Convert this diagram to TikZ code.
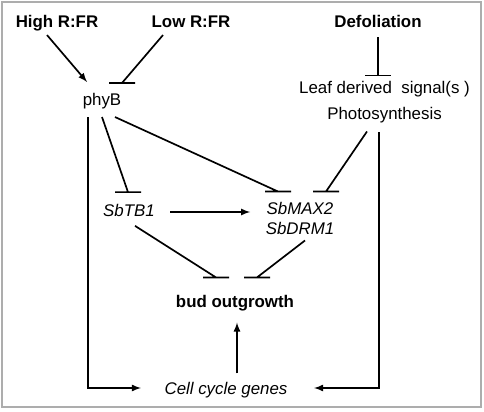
\documentclass[tikz,border=0pt]{standalone}
\usepackage{fontspec}
\setmainfont{Liberation Sans}
\usepackage{tikz}
\usetikzlibrary{calc}
\usetikzlibrary{arrows}
\usetikzlibrary{positioning}
\tikzset{>=latex}
\tikzstyle{txt} = [inner sep=2pt, font=\fontsize{12}{14.4}\selectfont]
\tikzstyle{inh} = [-, to path={-- (\tikztotarget) ++(-13,0) -- ++(26,0)}]

\begin{document}
\begin{tikzpicture}[x=0.025cm, y=-0.025cm, line width=1.2pt]
\useasboundingbox (0,0) rectangle (484,412);
\draw [black!32, line width=1.4pt] (2,2) rectangle (481,407);

% signals
\node [txt] (high) at (57, 23.5) {\textbf{High R:FR}};
\node [txt] (low) at (191, 21.5) {\textbf{Low R:FR}};
\node [txt] (defol) at (378, 21.5) {\textbf{Defoliation}};
\node [txt] (phyB) at (102, 101.5) {phyB};
\node [txt, align=center] (leaf) at (384.5, 102) {Leaf derived\ \ signal(s )\\[4pt]Photosynthesis};
% genes
\node [txt] (tb1) at (129, 210) {\textit{SbTB1}};
\node [txt, align=center] (max) at (300, 218.5) {\textit{SbMAX2}\\\textit{SbDRM1}};
\node [txt] (bud) at (235, 303) {\textbf{bud outgrowth}};
\node [txt] (cell) at (226, 390) {\textit{Cell cycle genes}};

\draw [->] ($(high.south)+(-10,0)$) -- ($(phyB.north)+(-15,-8)$);
\draw [inh] ($(low.south)+(-28,4)$) to ($(phyB.north)+(20,-7)$);
\draw [inh] (defol.south) ++(0,6) to ($(defol.south |- leaf.north)+(0,-2)$);

\draw [->] ($(phyB.south)+(-14,4)$) |- ($(cell.west)+(-20,-2)$);
\draw [inh] ($(phyB.south)+(0,4)$) to ($(tb1.north)+(-1,-8)$);
\draw [inh] ($(phyB.south)+(13,4)$) to ($(max.north)+(-22,-7)$);
\draw [inh] ($(leaf.south)+(-17.5,5)$) to ($(max.north)+(26,-7)$);
\draw [->] ($(leaf.south)+(-5.5,6)$) |- ($(cell.east)+(23,-2)$);

\draw [->] ($(tb1.east)+(12,2)$) -- ($(max.west |- tb1.east)+(-12,2)$);
\draw [inh] ($(tb1.south)+(6,6)$) to ($(bud.north)+(-19,-14)$);
\draw [inh] ($(max.south)+(5,2)$) to ($(bud.north)+(22,-14)$);
\draw [->] ($(cell.north)+(11,-5)$) -- ($(bud.south)+(2,8)$);
\end{tikzpicture}
\end{document}
